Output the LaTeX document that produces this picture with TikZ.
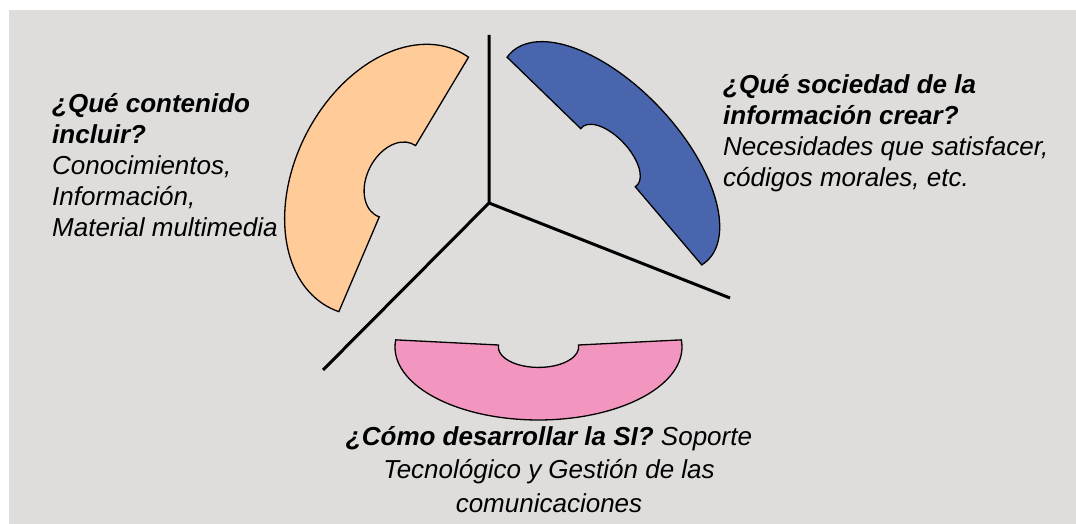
\documentclass[tikz,border=0pt]{standalone}
\usepackage{fontspec}
\setmainfont{Liberation Sans}
\usetikzlibrary{positioning}
\definecolor{bgray}{RGB}{222,221,219}
\definecolor{peach}{RGB}{255,204,153}
\definecolor{siblue}{RGB}{72,101,173}
\definecolor{sipink}{RGB}{243,150,191}

\begin{document}
\begin{tikzpicture}[x=1pt,y=1pt,
    axis/.style={line width=3pt},
    piece/.style={draw,line width=1.3pt},
    txt/.style={inner sep=0pt,font=\fontsize{26}{31}\selectfont\itshape}]
  \useasboundingbox (0,0) rectangle (1076,524);
  \fill[white] (0,0) rectangle (1076,524);
  \fill[bgray] (9,0) rectangle (1076,514);

  % the three pieces
  \foreach \ox/\oy/\rot/\a/\b/\col in {395/344/243/143.5/100/peach,
      609.4/367.6/133.15/143/70/siblue, 538.5/177/0/143.5/73/sipink}
    \draw[piece,fill=\col,shift={(\ox,\oy)},rotate=\rot,xscale=\a,yscale=\b]
      (174.4:1) arc[start angle=174.4,end angle=365.6,radius=1]
      -- (365.6:0.28) arc[start angle=365.6,end angle=174.4,radius=0.28] -- cycle;

  % axes
  \coordinate (o) at (489,321);
  \coordinate (top) at (489,489);
  \coordinate (se) at (730,226);
  \coordinate (sw) at (323,154);
  \draw[axis] (o) -- (top) (o) -- (se) (o) -- (sw);

  % base = last line
  \node[txt,align=left,anchor=base west] (content) at (52,287)
    {\textbf{¿Qué contenido}\\\textbf{incluir?}\\Conocimientos,\\Información,\\Material multimedia};
  \node[txt,align=left,anchor=base west] (society) at (723,337)
    {\textbf{¿Qué sociedad de la}\\\textbf{información crear?}\\Necesidades que satisfacer,\\códigos morales, etc.};
  \node[txt,align=center,anchor=base,font=\fontsize{26}{33.5}\selectfont\itshape] (develop) at (549,11.5)
    {\textbf{¿Cómo desarrollar la SI?} Soporte\\Tecnológico y Gestión de las\\comunicaciones};
\end{tikzpicture}
\end{document}
